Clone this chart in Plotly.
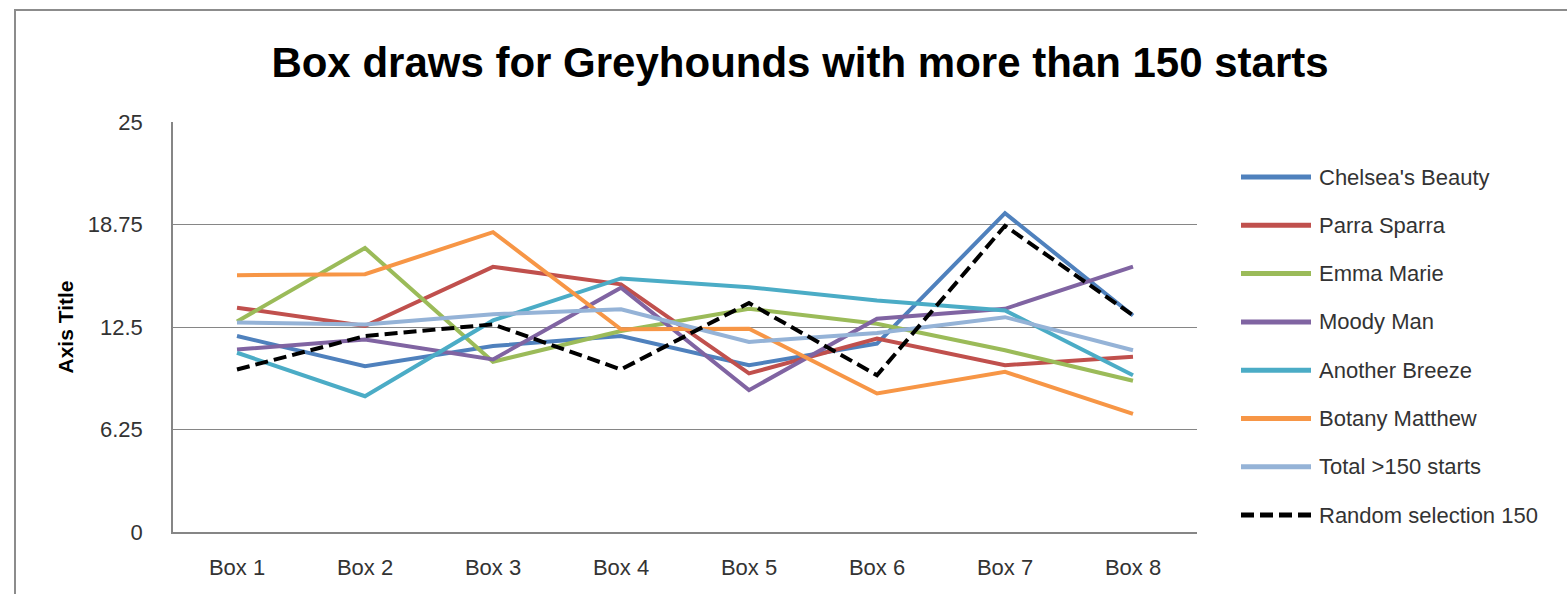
import plotly.graph_objects as go

# ---- data ----
boxes = ["Box 1", "Box 2", "Box 3", "Box 4", "Box 5", "Box 6", "Box 7", "Box 8"]

chelseas_beauty = [11.95, 10.11, 11.34, 11.95, 10.17, 11.49, 19.44, 13.2]
parra_sparra = [13.68, 12.56, 16.17, 15.1, 9.67, 11.79, 10.17, 10.68]
emma_marie = [12.83, 17.32, 10.38, 12.26, 13.61, 12.7, 11.08, 9.22]
moody_man = [11.13, 11.74, 10.52, 14.9, 8.65, 13.0, 13.61, 16.18]
another_breeze = [10.93, 8.28, 12.9, 15.46, 14.93, 14.12, 13.51, 9.56]
botany_matthew = [15.66, 15.72, 18.28, 12.36, 12.4, 8.45, 9.77, 7.2]
total_150 = [12.77, 12.66, 13.28, 13.58, 11.59, 12.14, 13.1, 11.08]
random_150 = [9.91, 11.95, 12.66, 9.91, 13.96, 9.56, 18.67, 13.21]

series_names = ["Chelsea's Beauty", "Parra Sparra", "Emma Marie", "Moody Man",
                "Another Breeze", "Botany Matthew", "Total >150 starts",
                "Random selection 150"]
series_values = [chelseas_beauty, parra_sparra, emma_marie, moody_man,
                 another_breeze, botany_matthew, total_150, random_150]
series_colors = ["#4F81BD", "#C0504D", "#9BBB59", "#8064A2",
                 "#4BACC6", "#F79646", "#95B3D7", "#000000"]
series_dash = ["solid"] * 7 + ["13px,6px"]

y_ticks = [0, 6.25, 12.5, 18.75, 25]
y_tick_text = ["0", "6.25", "12.5", "18.75", "25"]

# ---- layout geometry (pixels) ----
W, H = 1567, 594
L, R, T, B = 173, 370, 122, 62
PW, PH = W - L - R, H - T - B

def px_x(x):
    return (x - L) / PW

def px_y(y):
    return (H - B - y) / PH

FONT = "Liberation Sans, Arial, sans-serif"
TXT = "#333333"

fig = go.Figure()
for name, vals, col, dsh in zip(series_names, series_values, series_colors, series_dash):
    fig.add_trace(go.Scatter(
        x=boxes, y=vals, mode="lines", name=name,
        line=dict(color=col, width=4, dash=dsh),
        showlegend=False,
    ))

shapes = []
annotations = []
# outer chart border
shapes.append(dict(type="rect", xref="paper", yref="paper",
                   x0=px_x(15), x1=px_x(W + 20), y0=px_y(H + 20), y1=px_y(10),
                   line=dict(color="#8c8c8c", width=2), fillcolor="rgba(0,0,0,0)",
                   layer="below"))

# legend (manual, to match long line samples)
leg_y0 = 177
leg_dy = 48.3
for i, (name, col, dsh) in enumerate(zip(series_names, series_colors, series_dash)):
    yy = leg_y0 + i * leg_dy
    shapes.append(dict(type="line", xref="paper", yref="paper",
                       x0=px_x(1241), x1=px_x(1311), y0=px_y(yy), y1=px_y(yy),
                       line=dict(color=col, width=5,
                                 dash="13px,6px" if dsh != "solid" else "solid")))
    annotations.append(dict(xref="paper", yref="paper", x=px_x(1317), y=px_y(yy),
                            text=name, showarrow=False, xanchor="left", yanchor="middle",
                            font=dict(family=FONT, size=22, color=TXT)))

fig.update_layout(
    width=W, height=H,
    margin=dict(l=L, r=R, t=T, b=B),
    paper_bgcolor="white", plot_bgcolor="white",
    showlegend=False,
    title=dict(text="<b>Box draws for Greyhounds with more than 150 starts</b>",
               x=800 / W, xanchor="center", xref="container",
               y=1 - 62 / H, yanchor="middle", yref="container",
               font=dict(family=FONT, size=42, color="#000000")),
    shapes=shapes,
    annotations=annotations,
)

fig.update_xaxes(
    type="category", range=[-0.5, 7.5],
    showgrid=False, showline=True, linecolor="#868686", linewidth=1.5,
    ticks="", ticklabelstandoff=15,
    tickfont=dict(family=FONT, size=22, color=TXT),
    zeroline=False,
)
fig.update_yaxes(
    range=[0, 25], tickvals=y_ticks, ticktext=y_tick_text,
    showgrid=True, gridcolor="#868686", gridwidth=1,
    showline=True, linecolor="#868686", linewidth=1.5,
    ticks="", ticklabelstandoff=24,
    tickfont=dict(family=FONT, size=22, color=TXT),
    zeroline=False,
    title=dict(text="<b>Axis Title</b>", standoff=8,
               font=dict(family=FONT, size=21, color="#000000")),
)

fig.write_html("out.html")
